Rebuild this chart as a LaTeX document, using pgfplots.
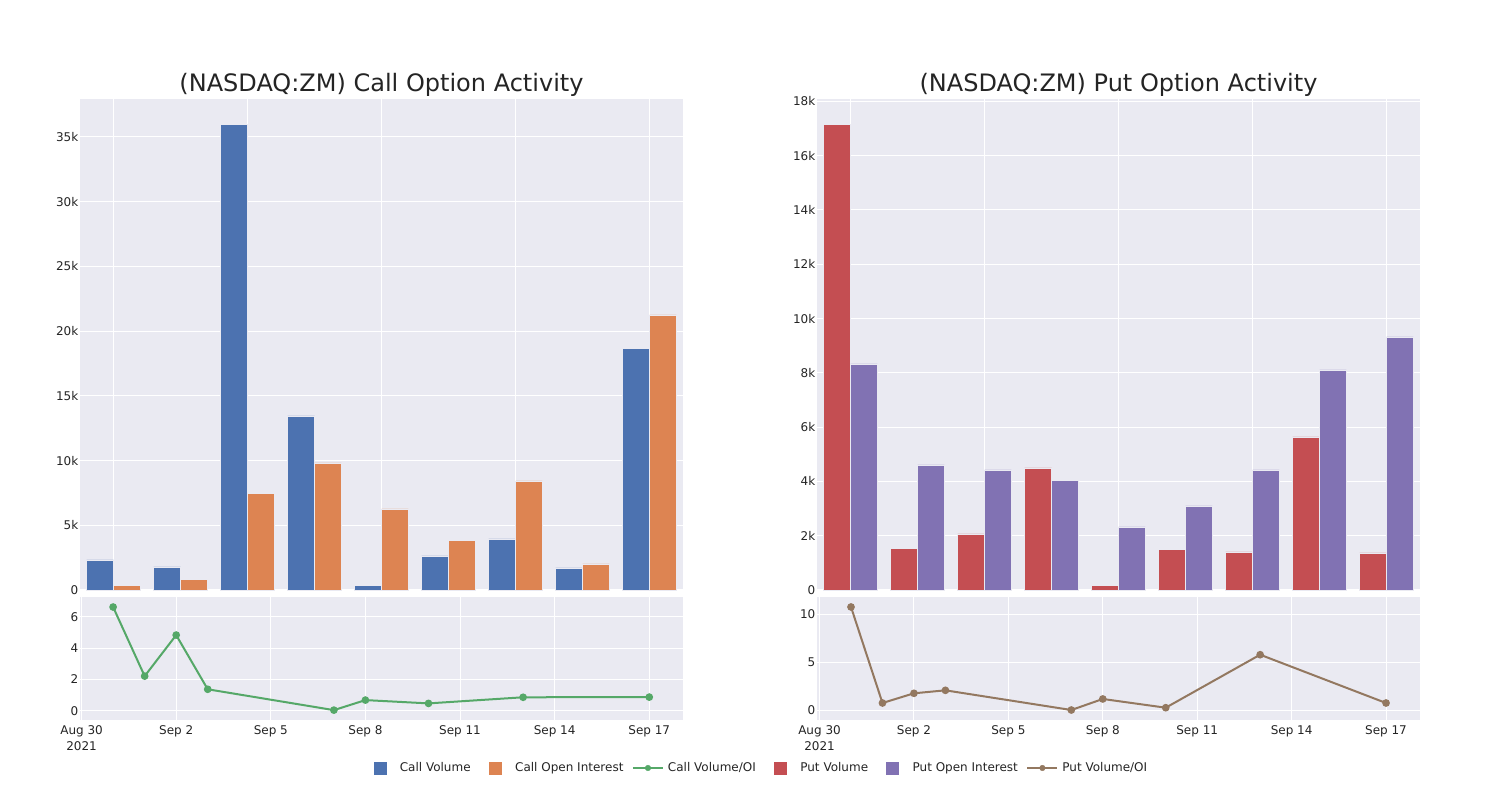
\documentclass[border=0pt]{standalone}
\usepackage{fontspec}
\setmainfont{DejaVu Sans}
\usepackage{pgfplots}
\pgfplotsset{compat=1.18}
\definecolor{bgc}{RGB}{234,234,242}
\definecolor{txt}{RGB}{36,36,36}
\definecolor{cblue}{RGB}{76,114,176}
\definecolor{corange}{RGB}{221,132,82}
\definecolor{cgreen}{RGB}{85,168,104}
\definecolor{cred}{RGB}{196,78,82}
\definecolor{cpurple}{RGB}{129,114,179}
\definecolor{cbrown}{RGB}{147,120,96}
\pgfplotsset{
  base/.style={
    scale only axis, anchor=south west,
    axis background/.style={fill=bgc},
    axis line style={draw=none},
    tick style={draw=none},
    major tick length=0pt,
    xmajorgrids, ymajorgrids,
    grid style={white, line width=1bp},
    tick label style={font=\fontsize{12bp}{14bp}\selectfont, text=txt},
    yticklabel style={inner xsep=1.5bp},
    /pgf/number format/assume math mode=true,
    scaled ticks=false,
    clip=false,
  },
  barax/.style={base, width=603bp, height=491bp, xmin=-0.5, xmax=8.5,
    xtick={0,2,4,6,8}, xticklabels={,,,,,},
    title style={font=\fontsize{24bp}{28bp}\selectfont, text=txt, anchor=base, at={(0.5,1)}, yshift=2bp}},
  lineax/.style={base, width=603bp, height=123bp,
    xtick={0,3,6,9,12,15,18},
    xticklabels={{Aug 30\\2021},Sep 2,Sep 5,Sep 8,Sep 11,Sep 14,Sep 17},
    xticklabel style={align=center, inner ysep=5bp, font=\fontsize{12bp}{16.5bp}\selectfont}},
  sqleg/.style={legend image code/.code={\path[draw=none,fill=none] (0bp,-6bp) rectangle (40bp,6bp); \fill (14bp,-6bp) rectangle (26bp,6bp);}},
  lnleg/.style={legend image code/.code={\path[draw=none,fill=none] (0bp,-6bp) rectangle (40bp,6bp); \draw[line width=2bp] (5bp,0bp) -- (35bp,0bp); \fill (20bp,0bp) circle (2.8bp);}},
}
\begin{document}
\begin{tikzpicture}[x=1bp,y=1bp]
\path[use as bounding box] (0,0) rectangle (1500,800);
% ---------- Call bars ----------
\begin{axis}[barax, at={(80bp,210bp)}, ymin=0, ymax=37935,
  ytick={0,5000,10000,15000,20000,25000,30000,35000},
  yticklabels={0,5k,10k,15k,20k,25k,30k,35k},
  title={(NASDAQ:ZM) Call Option Activity}]
\addplot[ybar, bar width=0.4, bar shift=-0.2, fill=cblue, draw=bgc, line width=0.5bp]
  coordinates {(0,2318) (1,1780) (2,35980) (3,13447) (4,332) (5,2627) (6,3940) (7,1700) (8,18674)};
\addplot[ybar, bar width=0.4, bar shift=0.2, fill=corange, draw=bgc, line width=0.5bp]
  coordinates {(0,340) (1,805) (2,7449) (3,9815) (4,6258) (5,3840) (6,8423) (7,2009) (8,21247)};
\end{axis}
% ---------- Call ratio ----------
\begin{axis}[lineax, at={(80bp,80bp)}, xmin=-0.05, xmax=19.07, ymin=-0.59, ymax=7.26,
  ytick={0,2,4,6},
  legend columns=6,
  legend style={at={(1.1169,-0.3902)}, anchor=center, draw=none, fill=none,
    font=\fontsize{12bp}{14bp}\selectfont, text=txt, inner sep=0pt,
    nodes={inner sep=0pt},
    /tikz/every even column/.append style={column sep=4.5bp}}]
\addlegendimage{sqleg, cblue}
\addlegendentry{Call Volume}
\addlegendimage{sqleg, corange}
\addlegendentry{Call Open Interest}
\addlegendimage{lnleg, cgreen}
\addlegendentry{Call Volume/OI}
\addlegendimage{sqleg, cred}
\addlegendentry{Put Volume}
\addlegendimage{sqleg, cpurple}
\addlegendentry{Put Open Interest}
\addlegendimage{lnleg, cbrown}
\addlegendentry{Put Volume/OI}
\addplot[cgreen, line width=2bp, mark=*, mark size=2.8bp, mark options={fill=cgreen, draw=cgreen}, forget plot]
  coordinates {(1,6.62) (2,2.21) (3,4.83) (4,1.37) (8,0.04) (9,0.68) (11,0.47) (14,0.86) (18,0.87)};
\end{axis}
% ---------- Put bars ----------
\begin{axis}[barax, at={(817bp,210bp)}, ymin=0, ymax=18088,
  ytick={0,2000,4000,6000,8000,10000,12000,14000,16000,18000},
  yticklabels={0,2k,4k,6k,8k,10k,12k,14k,16k,18k},
  title={(NASDAQ:ZM) Put Option Activity}]
\addplot[ybar, bar width=0.4, bar shift=-0.2, fill=cred, draw=bgc, line width=0.5bp]
  coordinates {(0,17142) (1,1547) (2,2063) (3,4495) (4,184) (5,1510) (6,1400) (7,5637) (8,1363)};
\addplot[ybar, bar width=0.4, bar shift=0.2, fill=cpurple, draw=bgc, line width=0.5bp]
  coordinates {(0,8326) (1,4605) (2,4421) (3,4052) (4,2321) (5,3095) (6,4421) (7,8105) (8,9321)};
\end{axis}
% ---------- Put ratio ----------
\begin{axis}[lineax, at={(817bp,80bp)}, xmin=-0.08, xmax=19.08, ymin=-1.01, ymax=11.8,
  ytick={0,5,10}]
\addplot[cbrown, line width=2bp, mark=*, mark size=2.8bp, mark options={fill=cbrown, draw=cbrown}]
  coordinates {(1,10.76) (2,0.76) (3,1.77) (4,2.08) (8,0.03) (9,1.18) (11,0.27) (14,5.79) (18,0.76)};
\end{axis}
\end{tikzpicture}
\end{document}
